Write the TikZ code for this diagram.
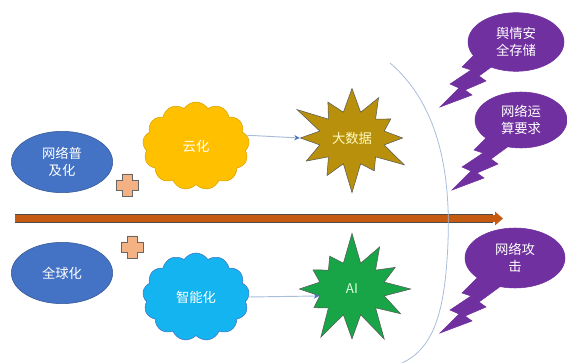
\documentclass[tikz,border=0pt]{standalone}
\usepackage{fontspec}
\newfontfamily\cjk{Noto Sans CJK SC}
\usepackage{tikz}
\usetikzlibrary{arrows.meta,shapes.geometric,shapes.symbols}
\usepackage{xcolor}

\definecolor{ovalblue}{HTML}{4472C4}
\definecolor{cloudgold}{HTML}{FFC000}
\definecolor{cloudsky}{HTML}{14B4F0}
\definecolor{burstgold}{HTML}{B8900C}
\definecolor{burstgreen}{HTML}{18A548}
\definecolor{boltpurple}{HTML}{7030A0}
\definecolor{plusfill}{HTML}{F4B183}
\definecolor{timebrown}{HTML}{C55A11}
\definecolor{linkgray}{HTML}{A9BCD9}

\tikzset{
  txt/.style={font=\cjk\fontsize{10}{12.5}\selectfont,align=center,text=white},
  oval/.style={txt,ellipse,fill=ovalblue,draw=ovalblue!75!black,
    minimum width=76pt,minimum height=46pt,inner sep=0pt},
  puff/.style={txt,cloud,cloud puffs=13,cloud puff arc=115,aspect=1.2,
    minimum width=80pt,minimum height=66pt,inner sep=0pt},
  burst/.style={txt,starburst,starburst points=12,starburst point height=24pt,
    minimum width=98pt,minimum height=88pt,inner sep=0pt,draw=gray!70!black},
  bubble/.style={txt,ellipse,fill=boltpurple,draw=boltpurple,inner sep=0pt},
  bolt/.style={fill=boltpurple,draw=boltpurple,line join=miter},
  plusbox/.style={fill=plusfill,draw=gray!80!black,line width=0.6pt},
  link/.style={draw=linkgray,line width=0.7pt,-{Stealth[length=4pt,width=4pt,color=ovalblue,fill=ovalblue]}},
  timeline/.style={draw=timebrown,line width=5pt,-{Triangle[length=6pt,width=10pt]}}
}

% lightning tail, drawn from its tip towards the bubble centre
\newcommand\zaptail{(0,0) -- (32,-12) -- (25,-17) -- (46,-26) -- (39,-31) -- (76,-58)
  -- (60,-78) -- (22,-40) -- (31,-37) -- (10,-23) -- (19,-19) -- cycle}
% plus sign around the origin
\newcommand\plusmark{(-5,-11) -- (5,-11) -- (5,-5) -- (11,-5) -- (11,5) -- (5,5)
  -- (5,11) -- (-5,11) -- (-5,5) -- (-11,5) -- (-11,-5) -- (-5,-5) -- cycle}

\begin{document}
\begin{tikzpicture}[x=0.75pt,y=-0.75pt]
\useasboundingbox (0,0) rectangle (567,363);

% time axis
\coordinate (t0) at (15,218.5);
\coordinate (t1) at (503,218.5);
\draw[line width=6.5pt,draw=gray!60!black] (t0) -- ([xshift=-7.5pt]t1);
\draw[timeline] (t0) -- (t1);

% drivers
\node (wlpj) [oval] at (62,162) {网络普\\及化};
\node (qqh) [oval] at (62,273) {全球化};
\draw[plusbox,shift={(127,185)}] \plusmark;
\draw[plusbox,shift={(132,247)}] \plusmark;

% technologies
\node (yun) [puff,fill=cloudgold,draw=cloudgold!85!black] at (196,146) {云化};
\node (zhn) [puff,fill=cloudsky,draw=ovalblue] at (196,297) {智能化};
\node (dsj) [burst,fill=burstgold,text=yellow!25] at (352,138) {大数据};
\node (ai) [burst,fill=burstgreen,text=green!15,random starburst=7] at (352,289) {AI};
\draw[link] (yun.12) -- (dsj.west);
\draw[link] (zhn.east) -- (ai.192);

% bracket
\draw[linkgray,line width=0.6pt] (390,63) .. controls (445,110) and (452,190) .. (447,260)
  .. controls (443,320) and (430,350) .. (402,363);

% challenges
\begin{scope}[shift={(440,107)}] \filldraw[bolt] \zaptail; \end{scope}
\begin{scope}[shift={(452,190)}] \filldraw[bolt] \zaptail; \end{scope}
\begin{scope}[shift={(440,333)}] \filldraw[bolt] \zaptail; \end{scope}
\node (yq) [bubble,minimum width=72pt,minimum height=44pt] at (516,42) {舆情安\\全存储};
\node (ys) [bubble,minimum width=69pt,minimum height=42pt] at (521,120) {网络运\\算要求};
\node (gj) [bubble,minimum width=75pt,minimum height=45pt] at (515,258) {网络攻\\击};
\end{tikzpicture}
\end{document}
